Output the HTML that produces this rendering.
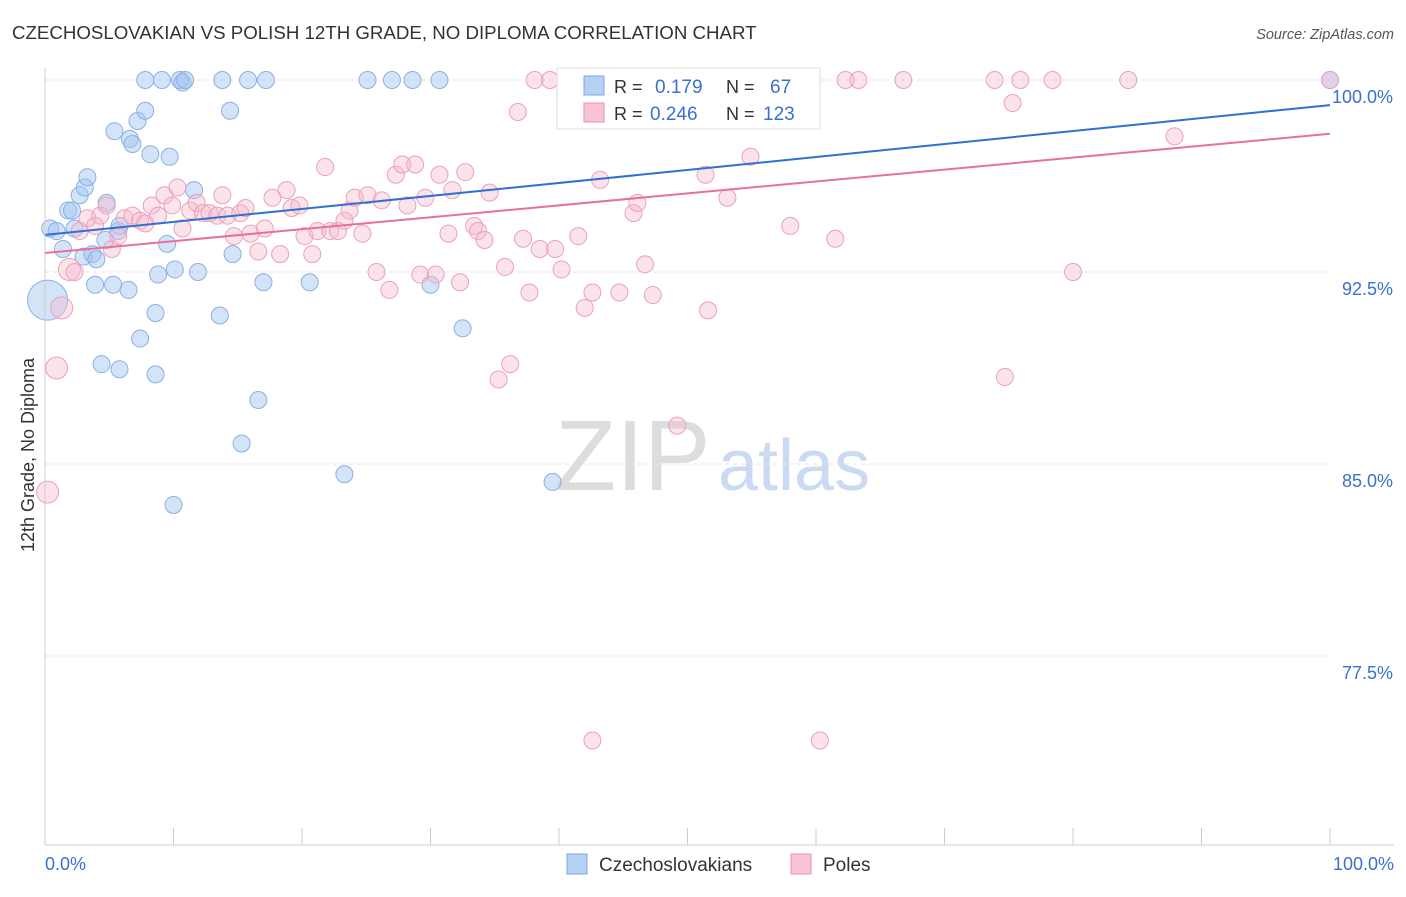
<!DOCTYPE html>
<html><head><meta charset="utf-8"><style>
body{margin:0;background:#fff;font-family:"Liberation Sans",sans-serif}
svg text{font-family:"Liberation Sans",sans-serif}
</style></head><body>
<svg width="1406" height="892" id="chart">
<text x="12" y="39" font-size="18.7" fill="#333">CZECHOSLOVAKIAN VS POLISH 12TH GRADE, NO DIPLOMA CORRELATION CHART</text>
<text x="1394" y="39" font-size="14.5" fill="#555" font-style="italic" text-anchor="end">Source: ZipAtlas.com</text>
<text x="555" y="490" font-size="100" fill="#ddd" font-family="Liberation Serif, serif">ZIP</text>
<text x="718" y="490" font-size="72" fill="#c9daf2">atlas</text>
<text transform="translate(34,455) rotate(-90)" font-size="18" fill="#333" text-anchor="middle">12th Grade, No Diploma</text>
<g id="grid"></g><g id="pts"></g><g id="lines"></g>
<line x1="45" y1="68" x2="45" y2="845" stroke="#ccc"/>
<line x1="45" y1="845" x2="1394" y2="845" stroke="#ccc"/>
<text x="45" y="870" font-size="18" fill="#3a70d0">0.0%</text>
<text x="1394" y="870" font-size="18" fill="#3a70d0" text-anchor="end">100.0%</text>
<g>
<rect x="557" y="68" width="263" height="61" fill="#fff" stroke="#ddd"/>
<rect x="584" y="76" width="20" height="19" fill="#b4d0f4" stroke="#7aa6e0"/>
<rect x="584" y="103" width="20" height="19" fill="#f8c4d4" stroke="#e890ae"/>
<text x="614" y="93" font-size="18" fill="#333">R = </text><text x="655" y="93" font-size="19" fill="#3a70d0">0.179</text>
<text x="726" y="93" font-size="18" fill="#333">N = </text><text x="770" y="93" font-size="19" fill="#3a70d0">67</text>
<text x="614" y="120" font-size="18" fill="#333">R = </text><text x="650" y="120" font-size="19" fill="#3a70d0">0.246</text>
<text x="726" y="120" font-size="18" fill="#333">N = </text><text x="763" y="120" font-size="19" fill="#3a70d0">123</text>
</g>
<g><rect x="567" y="854" width="20" height="20" fill="#b4d0f4" stroke="#7aa6e0"/><text x="599" y="871" font-size="19" fill="#333">Czechoslovakians</text></g>
<g><rect x="791" y="854" width="20" height="20" fill="#f8c4d4" stroke="#e890ae"/><text x="823" y="871" font-size="19" fill="#333">Poles</text></g>
</svg>
<script>
const yTicks=[100,92.5,85,77.5];
const yTickLabels=["100.0%","92.5%","85.0%","77.5%"];
const xTicks=[0,10,20,30,40,50,60,70,80,90,100];
const blueX=[0.2,0.4,0.9,1.4,1.8,2.1,2.3,2.7,3.1,3.3,3.0,3.7,4.0,3.9,4.7,4.8,5.3,5.4,5.7,5.8,4.4,6.5,6.6,6.8,7.2,7.8,8.2,8.6,7.4,8.6,8.8,9.5,9.7,10.1,10.5,10.7,10.9,9.1,7.8,11.6,11.9,13.6,13.8,14.4,14.6,15.3,15.8,16.6,17.0,17.2,20.6,23.3,25.1,27.0,28.6,30.0,30.7,32.5,39.5,100,10.0,5.8];
const blueY=[91.4,94.2,94.1,93.4,94.9,94.9,94.2,95.5,95.8,96.2,93.1,93.2,93.0,92.0,93.75,95.2,92.0,98.0,94.1,88.7,88.9,91.8,97.7,97.5,98.4,98.8,97.1,90.9,89.9,88.5,92.4,93.6,97.0,92.6,100,99.9,100,100,100,95.7,92.5,90.8,100,98.8,93.2,85.8,100,87.5,92.1,100,92.1,84.6,100,100,100,92.0,100,90.3,84.3,100,83.4,94.3];
const pinkX=[0.2,0.9,1.3,1.9,2.3,2.7,3.3,3.9,4.3,4.8,5.2,5.7,6.2,6.8,7.4,7.8,8.3,8.8,9.3,9.9,10.3,10.7,11.3,11.8,12.3,12.8,13.4,13.8,14.2,14.7,15.2,15.6,16.0,16.6,17.1,17.7,18.3,18.8,19.2,19.8,20.2,20.8,21.2,21.8,22.2,22.8,23.3,23.7,24.1,24.7,25.1,25.8,26.2,26.8,27.3,27.8,28.2,28.8,29.2,29.6,30.4,30.7,31.4,31.7,32.3,32.7,33.4,33.7,34.2,34.6,35.3,35.8,36.2,36.8,37.2,37.7,38.1,38.5,39.3,39.7,40.2,41.5,42.0,42.6,43.2,43.6,44.7,45.8,46.1,46.7,47.3,47.9,49.2,50.2,51.4,51.6,53.1,53.9,54.9,58.0,60.3,61.5,62.3,63.3,66.8,73.9,75.3,75.9,74.7,78.4,80.0,84.3,87.9,42.6,54.1,48.6,100];
const pinkY=[83.9,88.75,91.1,92.6,92.5,94.1,94.6,94.3,94.7,95.1,93.4,93.9,94.6,94.7,94.5,94.4,95.1,94.7,95.5,95.1,95.8,94.2,94.9,95.2,94.8,94.8,94.7,95.5,94.7,93.9,94.8,95.0,94.0,93.3,94.2,95.4,93.2,95.7,95.0,95.1,93.9,93.2,94.1,96.6,94.1,94.1,94.5,94.9,95.4,94.0,95.5,92.5,95.3,91.8,96.3,96.7,95.1,96.7,92.4,95.4,92.4,96.3,94.0,95.7,92.1,96.4,94.3,94.1,93.75,95.6,88.3,92.7,88.9,98.75,93.8,91.7,100,93.4,100,93.4,92.6,93.9,91.1,91.7,96.1,100,91.7,94.8,95.2,92.8,91.6,100,86.5,100,96.3,91.0,95.4,100,97.0,94.3,74.2,93.8,100,100,100,100,99.1,100,88.4,100,92.5,100,97.8,74.2,100,100,100];
const blueTrend=[93.95,99.02];
const pinkTrend=[93.24,97.9];
const X0=45,X1=1330,YTOP=80,PPU=25.6;
const sx=v=>X0+(X1-X0)*v/100;
const sy=v=>YTOP+(100-v)*PPU;
const NS="http://www.w3.org/2000/svg";
function mk(tag,attrs,parent){const e=document.createElementNS(NS,tag);for(const k in attrs)e.setAttribute(k,attrs[k]);parent.appendChild(e);return e;}
const grid=document.getElementById('grid');
yTicks.forEach((t,i)=>{
 const l=mk('line',{x1:45,x2:1330,y1:sy(t),y2:sy(t),stroke:'#e2e2e2','stroke-dasharray':'4,4'},grid);
 
 
 const tx=mk('text',{x:1393,y:sy(t)+23,'font-size':18,fill:'#3a70d0','text-anchor':'end'},grid);
 tx.textContent=yTickLabels[i];
 
 
});
xTicks.forEach(t=>{
 const l=mk('line',{x1:sx(t),x2:sx(t),y1:828,y2:845,stroke:'#ccc'},grid);
 
 
});
const pts=document.getElementById('pts');
blueX.forEach((x,i)=>{
 const c=mk('circle',{cx:sx(x),cy:sy(blueY[i]),r:i===0?20:8.5,fill:'rgba(160,196,240,0.45)',stroke:'#8ab0e4','stroke-width':1},pts);
 
 
});
pinkX.forEach((x,i)=>{
 const c=mk('circle',{cx:sx(x),cy:sy(pinkY[i]),r:i<4?11:8.5,fill:'rgba(245,185,205,0.4)',stroke:'#eca0ba','stroke-width':1},pts);
 
 
});
const lines=document.getElementById('lines');
const bl=mk('line',{x1:sx(0),y1:sy(blueTrend[0]),x2:sx(100),y2:sy(blueTrend[1]),stroke:'#2f6fd6','stroke-width':2},lines);


const pl=mk('line',{x1:sx(0),y1:sy(pinkTrend[0]),x2:sx(100),y2:sy(pinkTrend[1]),stroke:'#e8709a','stroke-width':2},lines);


</script>
</body></html>
